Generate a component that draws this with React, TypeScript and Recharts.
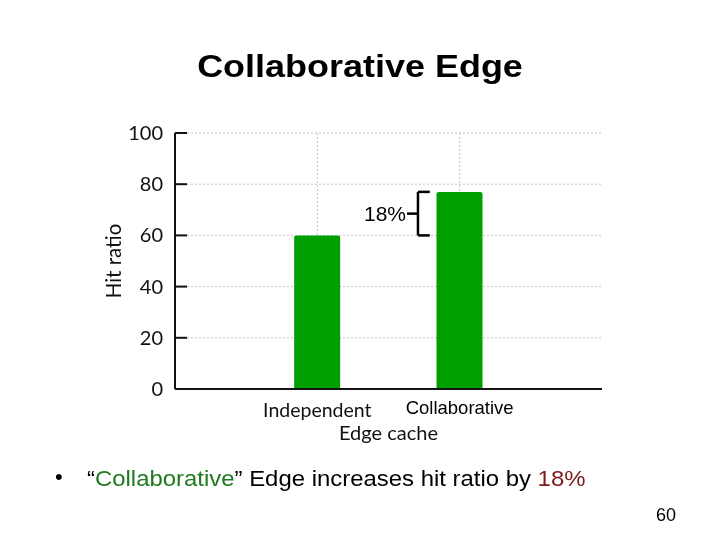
import React from 'react';
import { BarChart, Bar, XAxis, YAxis, CartesianGrid, ReferenceLine, ReferenceDot } from 'recharts';

const categories = ['Independent', 'Collaborative'];
const hitRatio = [60, 77];
const yTicks = [0, 20, 40, 60, 80, 100];
const gainLabel = '18%';

const data = categories.map((name, i) => ({ pos: i + 1, name, hit: hitRatio[i] }));
const xTicks = data.map((d) => d.pos);
const xDomain = [0, 3];

const gill = 'Lato, "Open Sans", sans-serif';
const arial = '"Liberation Sans", Arial, sans-serif';

// bracket between the two bar tops
const low = hitRatio[0];
const high = hitRatio[1];
const mid = (low + high) / 2;
const bx = 1.707;
const bxEnd = 1.79;
const bxStart = 1.63;

// vertical grid only at the category positions
function verticalGrid(props: any) {
  const off = props.offset || {};
  const left = off.left ?? 175;
  const w = off.width ?? 427;
  return xTicks.map((t) => left + (w * (t - xDomain[0])) / (xDomain[1] - xDomain[0]));
}

function YTick(props: any) {
  const { x, y, payload } = props;
  return (
    <g>
      <line x1={x + 12} x2={x + 24} y1={y} y2={y} stroke="#111" strokeWidth={2} />
      <text x={x} y={y} dy={7} textAnchor="end" fontFamily={gill} fontSize={20} fill="#111">
        {payload.value}
      </text>
    </g>
  );
}

function XTick(props: any) {
  const { x, y, payload } = props;
  const name = categories[payload.value - 1];
  if (payload.value === 1) {
    return (
      <text x={x} y={y + 28} textAnchor="middle" fontFamily={gill} fontSize={19.5} fill="#111">
        {name}
      </text>
    );
  }
  return (
    <text x={x} y={y + 25} textAnchor="middle" fontFamily={arial} fontSize={18.5} fill="#000">
      {name}
    </text>
  );
}

export default function App() {
  return (
    <div style={{ position: 'fixed', left: 0, top: 0, width: 720, height: 540, background: '#fff' }}>
      <div
        style={{
          position: 'absolute', left: 0, top: 51, width: 720, textAlign: 'center', lineHeight: 1,
          fontFamily: arial, fontWeight: 'bold', fontSize: 31, color: '#000',
          transform: 'scaleX(1.16)', transformOrigin: '360px 0',
        }}
      >
        Collaborative Edge
      </div>

      <BarChart width={720} height={540} data={data} margin={{ top: 133, right: 118, bottom: 91, left: 115 }}>
        <CartesianGrid stroke="#c4c4c4" strokeDasharray="2 2" verticalCoordinatesGenerator={verticalGrid} />
        <XAxis
          dataKey="pos"
          type="number"
          domain={xDomain}
          ticks={xTicks}
          height={60}
          tickSize={0}
          tickMargin={0}
          tickLine={false}
          axisLine={{ stroke: '#111', strokeWidth: 2 }}
          tick={<XTick />}
          label={({ viewBox }: any) => (
            <text x={viewBox.x + viewBox.width / 2} y={viewBox.y + 51} textAnchor="middle" fontFamily={gill} fontSize={20} fill="#111">
              Edge cache
            </text>
          )}
        />
        <YAxis
          domain={[0, 100]}
          ticks={yTicks}
          width={60}
          tickSize={0}
          tickMargin={12}
          tickLine={false}
          axisLine={{ stroke: '#111', strokeWidth: 2 }}
          tick={<YTick />}
          label={({ viewBox }: any) => {
            const cx = viewBox.x - 1;
            const cy = viewBox.y + viewBox.height / 2;
            return (
              <text x={cx} y={cy} transform={`rotate(-90 ${cx} ${cy})`} dy={7} textAnchor="middle" fontFamily={gill} fontSize={20.5} fill="#111">
                Hit ratio
              </text>
            );
          }}
        />
        <Bar dataKey="hit" fill="#009f00" barSize={46} radius={[2, 2, 0, 0]} isAnimationActive={false} />
        <ReferenceLine segment={[{ x: bx, y: low }, { x: bx, y: high }]} stroke="#000" strokeWidth={2.5} ifOverflow="visible" />
        <ReferenceLine segment={[{ x: bx, y: high }, { x: bxEnd, y: high }]} stroke="#000" strokeWidth={2.5} ifOverflow="visible" />
        <ReferenceLine segment={[{ x: bx, y: low }, { x: bxEnd, y: low }]} stroke="#000" strokeWidth={2.5} ifOverflow="visible" />
        <ReferenceLine segment={[{ x: bxStart, y: mid }, { x: bx, y: mid }]} stroke="#000" strokeWidth={2.5} ifOverflow="visible" />
        <ReferenceDot
          x={bxStart}
          y={mid}
          r={0}
          fill="none"
          stroke="none"
          ifOverflow="visible"
          label={{ value: gainLabel, position: 'left', offset: 1, fontFamily: arial, fontSize: 21, fill: '#000' }}
        />
      </BarChart>

      <div style={{ position: 'absolute', left: 55, top: 466, fontFamily: arial, fontSize: 22, lineHeight: 1, color: '#000' }}>•</div>
      <div
        style={{
          position: 'absolute', left: 87, top: 468, fontFamily: arial, fontSize: 22, lineHeight: 1, color: '#000',
          whiteSpace: 'nowrap', transform: 'scaleX(1.087)', transformOrigin: '0 0',
        }}
      >
        <span>“</span>
        <span style={{ color: '#1f7a1f' }}>Collaborative</span>
        <span>” Edge increases hit ratio by </span>
        <span style={{ color: '#7a1a1a' }}>{gainLabel}</span>
      </div>
      <div style={{ position: 'absolute', left: 656, top: 506, fontFamily: arial, fontSize: 18, lineHeight: 1, color: '#000' }}>60</div>
    </div>
  );
}
